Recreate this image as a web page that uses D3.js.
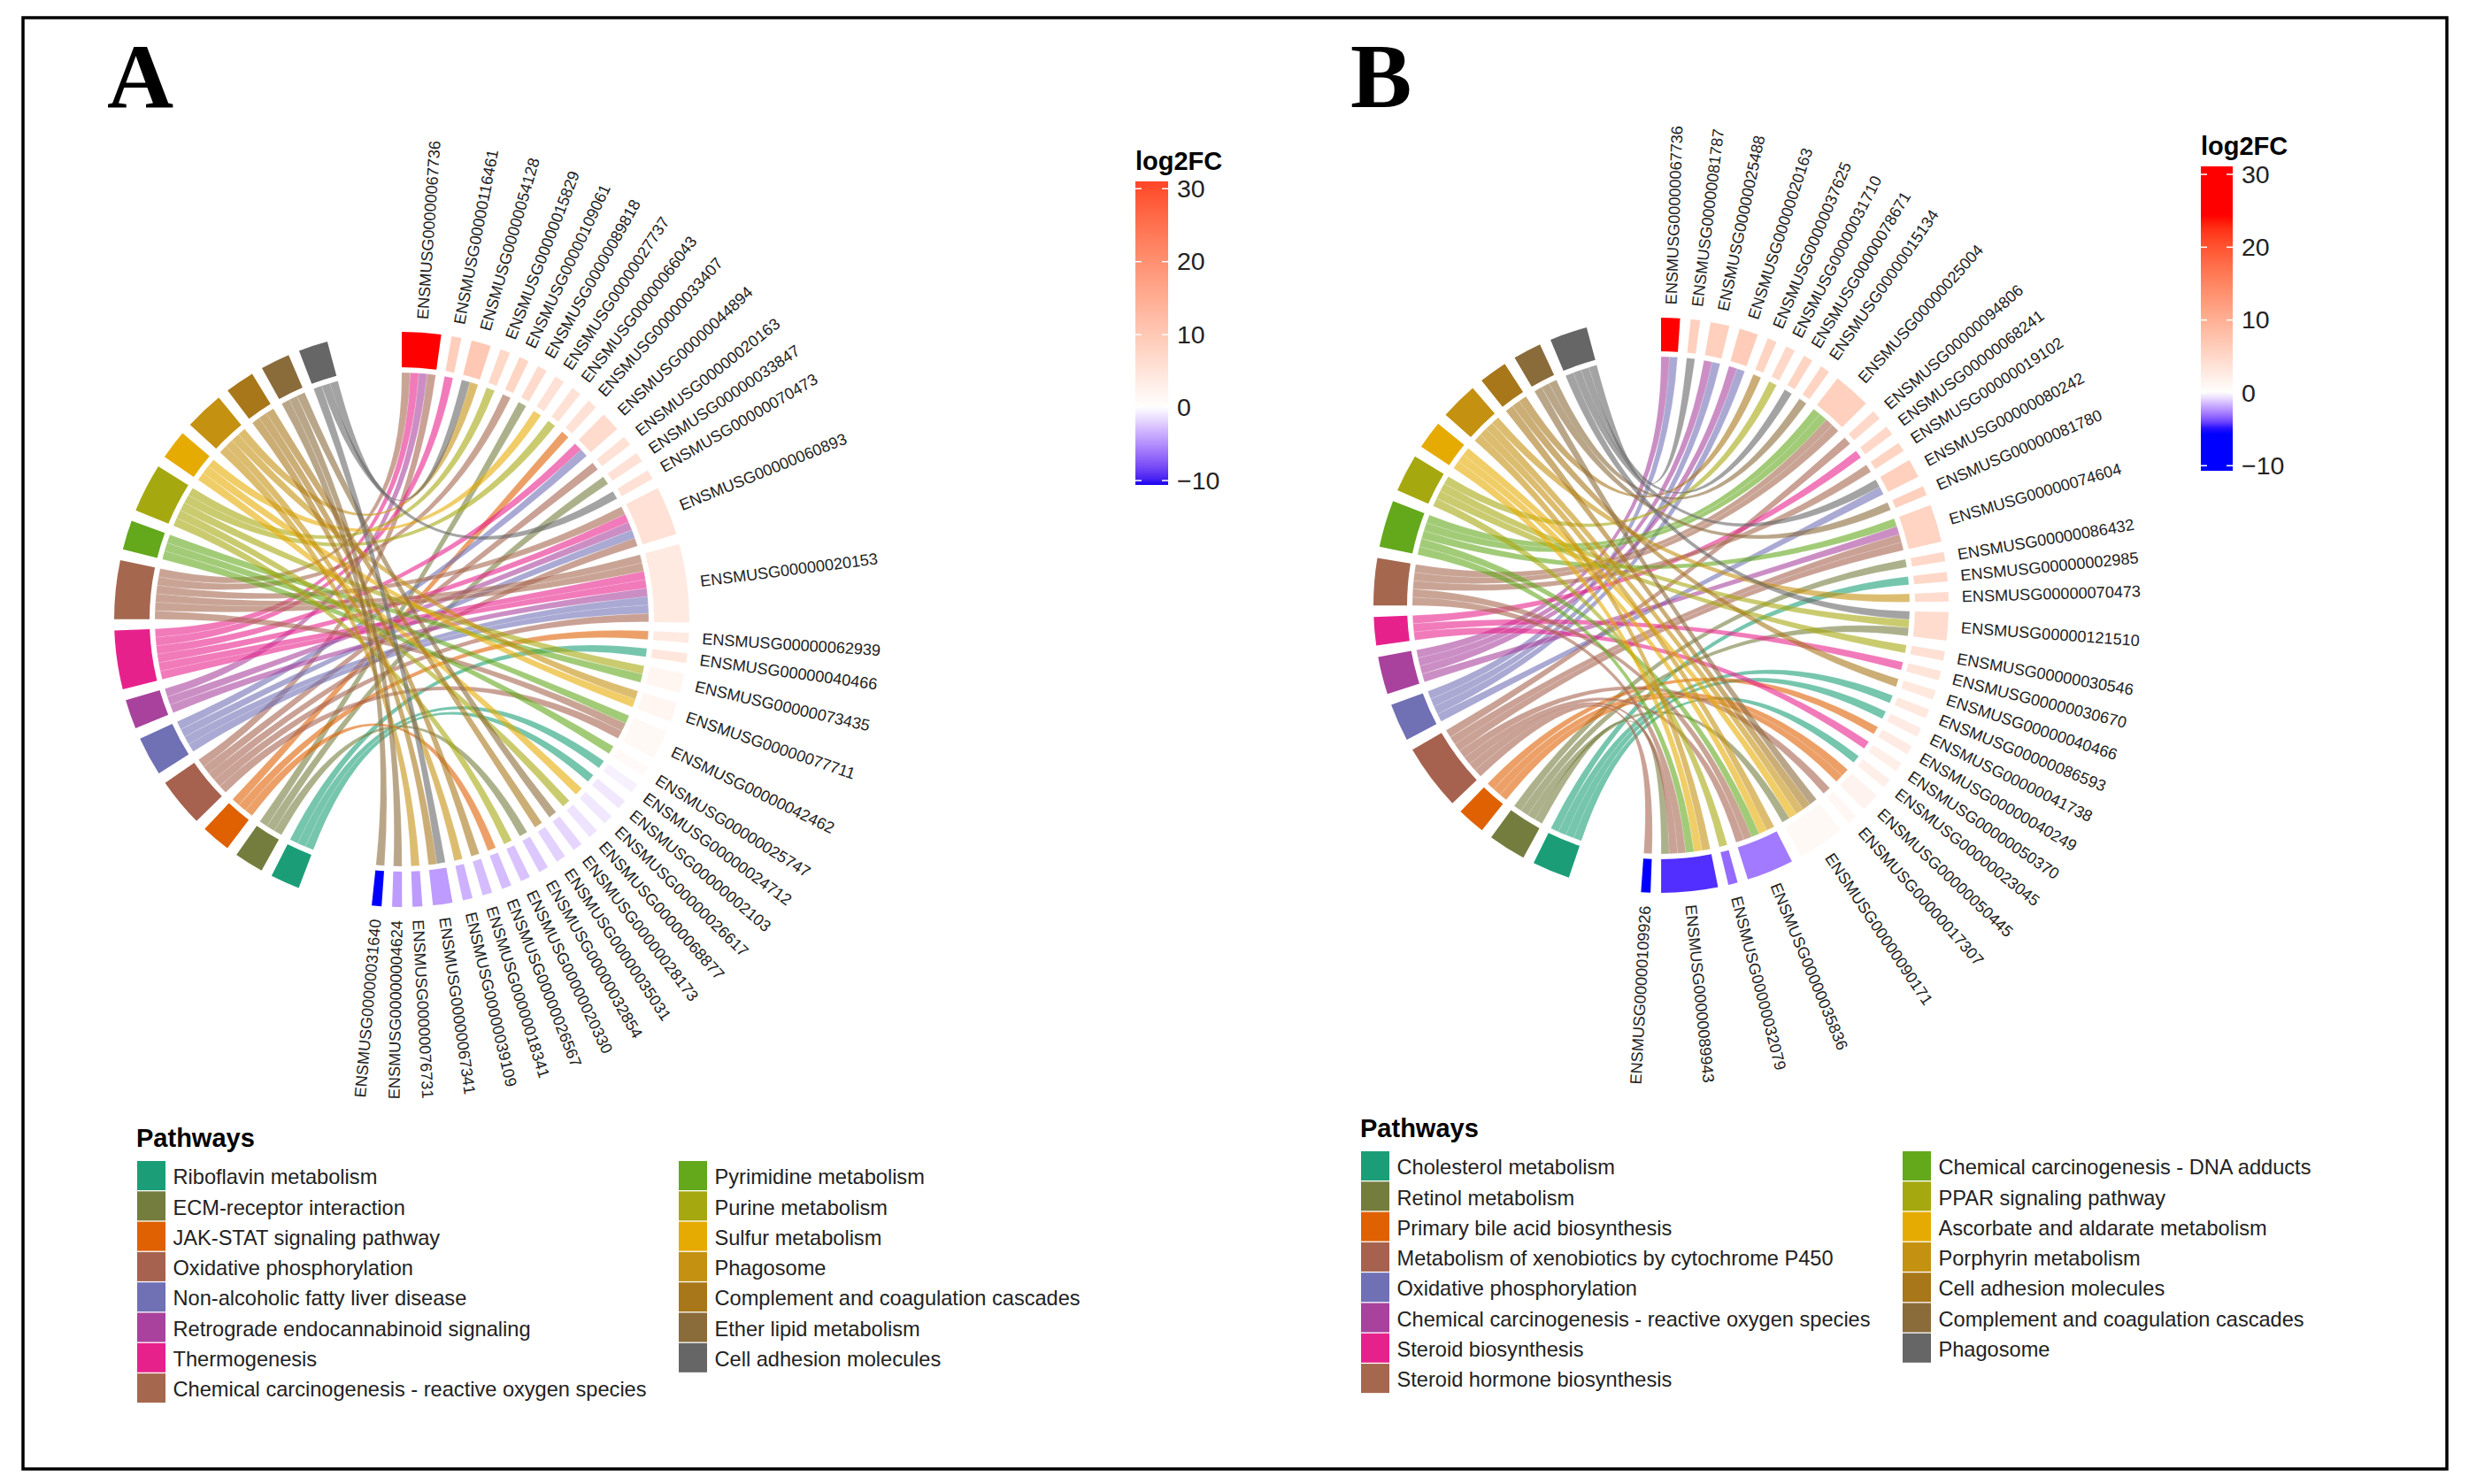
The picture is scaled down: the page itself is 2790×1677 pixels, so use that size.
<!DOCTYPE html>
<html><head><meta charset="utf-8">
<script src="https://cdn.jsdelivr.net/npm/d3@7"></script>
<style>html,body{margin:0;padding:0;background:#fff}svg{display:block}text{font-family:"Liberation Sans",Arial,sans-serif}</style>
</head><body><svg id="c" width="2790" height="1677"></svg>
<script>
const palette=["#1B9E77","#757D3E","#DF6102","#A6624F","#7070B5","#A8429C","#E7218C","#A5684F","#64A81C","#A6A80F","#E6AB02","#C49111","#A8771A","#8A6B3A","#666666"];

const pathwaysA=["Riboflavin metabolism","ECM-receptor interaction","JAK-STAT signaling pathway","Oxidative phosphorylation","Non-alcoholic fatty liver disease","Retrograde endocannabinoid signaling","Thermogenesis","Chemical carcinogenesis - reactive oxygen species","Pyrimidine metabolism","Purine metabolism","Sulfur metabolism","Phagosome","Complement and coagulation cascades","Ether lipid metabolism","Cell adhesion molecules"];
const genesA=["ENSMUSG00000067736","ENSMUSG00000116461","ENSMUSG00000054128","ENSMUSG00000015829","ENSMUSG00000109061","ENSMUSG00000089818","ENSMUSG00000027737","ENSMUSG00000066043","ENSMUSG00000033407","ENSMUSG00000044894","ENSMUSG00000020163","ENSMUSG00000033847","ENSMUSG00000070473","ENSMUSG00000060893","ENSMUSG00000020153","ENSMUSG00000062939","ENSMUSG00000040466","ENSMUSG00000073435","ENSMUSG00000077711","ENSMUSG00000042462","ENSMUSG00000025747","ENSMUSG00000024712","ENSMUSG00000002103","ENSMUSG00000026617","ENSMUSG00000068877","ENSMUSG00000028173","ENSMUSG00000035031","ENSMUSG00000032854","ENSMUSG00000020330","ENSMUSG00000026567","ENSMUSG00000018341","ENSMUSG00000039109","ENSMUSG00000067341","ENSMUSG00000076731","ENSMUSG00000004624","ENSMUSG00000031640"];
const logFCA=[31,8,9,6.5,7,6,5,5,5,6,5,5,5,5,3.5,3.5,4,1.5,1.5,1,0.8,-0.6,-1,-1,-1.2,-1.8,-2,-2.5,-2.7,-3,-3,-3.5,-4.5,-4.5,-4.5,-10.6];
const linksA=[[7,6,5,3],[6],[14,11],[9],[7],[1],[10],[9],[2],[6,4],[3],[1],[14],[7,6,5,4,3],[7,7,6,6,5,4,4,3],[2],[0],[9,8],[11,10],[8,7,3],[8],[0],[0],[10],[9],[13],[12],[1],[9],[2],[12],[11],[14,12],[11],[13],[13]];

const pathwaysB=["Cholesterol metabolism","Retinol metabolism","Primary bile acid biosynthesis","Metabolism of xenobiotics by cytochrome P450","Oxidative phosphorylation","Chemical carcinogenesis - reactive oxygen species","Steroid biosynthesis","Steroid hormone biosynthesis","Chemical carcinogenesis - DNA adducts","PPAR signaling pathway","Ascorbate and aldarate metabolism","Porphyrin metabolism","Cell adhesion molecules","Complement and coagulation cascades","Phagosome"];
const genesB=["ENSMUSG00000067736","ENSMUSG00000081787","ENSMUSG00000025488","ENSMUSG00000020163","ENSMUSG00000037625","ENSMUSG00000031710","ENSMUSG00000078671","ENSMUSG00000015134","ENSMUSG00000025004","ENSMUSG00000094806","ENSMUSG00000068241","ENSMUSG00000019102","ENSMUSG00000080242","ENSMUSG00000081780","ENSMUSG00000074604","ENSMUSG00000086432","ENSMUSG00000002985","ENSMUSG00000070473","ENSMUSG00000121510","ENSMUSG00000030546","ENSMUSG00000030670","ENSMUSG00000040466","ENSMUSG00000086593","ENSMUSG00000041738","ENSMUSG00000040249","ENSMUSG00000050370","ENSMUSG00000023045","ENSMUSG00000050445","ENSMUSG00000017307","ENSMUSG00000090171","ENSMUSG00000035836","ENSMUSG00000032079","ENSMUSG00000089943","ENSMUSG00000109926"];
const logFCB=[31,6,6,6.5,5.5,5,5.5,5.5,6,5,5,5.5,6,6,5.5,5,5,4.5,4.5,4,3.5,3,3,2.5,2.5,2,2,1.5,1,0.8,-3.4,-3.8,-5.3,-6];
const linksB=[[5,4],[14],[5,4],[5,4],[12],[9],[14],[13],[8,8,7,7],[3],[6],[7],[14,4],[13],[8,5,3,3],[1],[0],[11],[14,9,1],[9],[6],[12],[0],[0],[2],[6],[0],[2,2],[3],[13,12,11,10,1],[11,10,8,7,3],[9],[11,10,8,7,3,1],[3]];

const legendTicks=[-10,0,10,20,30];
const bandStopsA=[-10.6,0,31], bandColorsA=["#0000ff","#ffffff","#ff0000"];
const barStopsA=[-10.6,0,31], barColorsA=["#1a00f0","#ffffff","#ff4527"];
const bandStopsB=[-6,0,24,31], bandColorsB=["#0000ff","#ffffff","#ff0000","#ff0000"];
const barStopsB=[-10.7,-5,0,24,31.1], barColorsB=["#0000ff","#0000ff","#ffffff","#ff0000","#ff0000"];

const svg=d3.select("#c");
svg.append("rect").attr("width",2790).attr("height",1677).attr("fill","#fff");
svg.append("rect").attr("x",26).attr("y",20).attr("width",2739).attr("height",1640).attr("fill","none").attr("stroke","#000").attr("stroke-width",3.5);

const rad=d=>d*Math.PI/180;
function drawPanel(o,idx){
  const nP=o.pathways.length;
  const units=d3.sum(o.links,d=>d.length);
  const counts=d3.range(nP).map(p=>d3.sum(o.links,l=>l.filter(x=>x===p).length));
  const unit=(o.pathEnd-o.pathStart-(nP-1)*o.pathGap)/units;
  const geneGap=(o.geneEnd-units*unit)/(o.genes.length-1);
  const g=svg.append("g").attr("transform",`translate(${o.cx},${o.cy})`);
  const color=d3.scaleLinear().domain(o.bandStops).range(o.bandColors).interpolate(d3.interpolateLab).clamp(true);

  let a=0; const gs=[];
  o.genes.forEach((n,i)=>{const w=o.links[i].length*unit;gs.push({name:n,i,start:a,end:a+w,fc:o.fc[i]});a+=w+geneGap;});
  let b=o.pathStart; const ps=[];
  o.pathways.forEach((n,i)=>{const w=counts[i]*unit;ps.push({name:n,i,start:b,end:b+w});b+=w+o.pathGap;});

  const links=[];
  gs.forEach(s=>{o.links[s.i].forEach((p,k)=>links.push({gene:s.i,p,gs:s.start+k*unit,ge:s.start+(k+1)*unit}));});
  ps.forEach(s=>{
    const ls=links.filter(l=>l.p===s.i).sort((x,y)=>d3.descending(x.gene,y.gene)||d3.descending(x.gs,y.gs));
    ls.forEach((l,k)=>{l.ps=s.start+k*unit;l.pe=s.start+(k+1)*unit;});
  });
  const ribbon=d3.ribbon().radius(o.rr);
  g.append("g").selectAll("path").data(links.sort((x,y)=>d3.ascending(x.p,y.p))).join("path")
    .attr("d",l=>ribbon({source:{startAngle:rad(l.gs),endAngle:rad(l.ge)},target:{startAngle:rad(l.ps),endAngle:rad(l.pe)}}))
    .attr("fill",l=>palette[l.p]).attr("fill-opacity",0.6).attr("stroke","#fff").attr("stroke-opacity",0.25).attr("stroke-width",0.6);

  const arc=d3.arc().innerRadius(o.ri).outerRadius(o.ro).startAngle(d=>rad(d.start)).endAngle(d=>rad(d.end));
  g.append("g").selectAll("path").data(gs).join("path").attr("d",arc).attr("fill",d=>color(d.fc));
  g.append("g").selectAll("path").data(ps).join("path").attr("d",arc).attr("fill",d=>palette[d.i]);

  g.append("g").selectAll("text").data(gs).join("text")
    .attr("font-size",18.1).attr("fill","#222")
    .attr("dy","0.35em")
    .attr("transform",d=>{const m=(d.start+d.end)/2,flip=m>180;
      return `rotate(${m-90}) translate(${o.ro+o.labelGap},0)`+(flip?" rotate(180)":"");})
    .attr("text-anchor",d=>(d.start+d.end)/2>180?"end":"start")
    .text(d=>d.name);

  const y=d3.scaleLinear().domain(o.barDomain).range([o.barBottom,o.barTop]);
  const gid="grad"+idx;
  const lg=svg.append("defs").append("linearGradient").attr("id",gid).attr("x1",0).attr("x2",0).attr("y1",1).attr("y2",0);
  const barScale=d3.scaleLinear().domain(o.barStops).range(o.barColors).interpolate(d3.interpolateLab);
  d3.range(0,1.0001,0.02).forEach(t=>{const v=o.barDomain[0]+t*(o.barDomain[1]-o.barDomain[0]);
    lg.append("stop").attr("offset",t).attr("stop-color",barScale(v));});
  svg.append("rect").attr("x",o.barX).attr("y",o.barTop).attr("width",o.barW).attr("height",o.barBottom-o.barTop).attr("fill",`url(#${gid})`);
  const axis=d3.axisRight(y).tickValues(legendTicks).tickSize(0).tickPadding(0);
  const ag=svg.append("g").attr("transform",`translate(${o.barX+o.barW+10},0)`).call(axis);
  ag.select(".domain").remove();
  ag.selectAll("text").attr("font-size",28.5).attr("fill","#222").attr("font-family",'"Liberation Sans",Arial,sans-serif');
  legendTicks.forEach(t=>{[0,o.barW-7].forEach(dx=>svg.append("line").attr("x1",o.barX+dx).attr("x2",o.barX+dx+7).attr("y1",y(t)).attr("y2",y(t)).attr("stroke","#fff").attr("stroke-width",1.5));});
  svg.append("text").attr("x",o.barX).attr("y",o.barTop-13).attr("font-size",29).attr("font-weight","bold").text("log2FC");

  svg.append("text").attr("x",o.legX-1).attr("y",o.legTitleY).attr("font-size",29).attr("font-weight","bold").text("Pathways");
  o.pathways.forEach((n,i)=>{
    const col=i<8?0:1, row=i<8?i:i-8;
    const x=col?o.legX2:o.legX, yy=o.legY+row*34.3;
    svg.append("rect").attr("x",x).attr("y",yy).attr("width",32).attr("height",33).attr("fill",palette[i]);
    svg.append("text").attr("x",x+40.5).attr("y",yy+18).attr("dy","0.35em").attr("font-size",o.legFont).attr("fill","#222").text(n);
  });
}

drawPanel({pathways:pathwaysA,genes:genesA,fc:logFCA,links:linksA,cx:454,cy:700,ro:325,ri:285,rr:279,labelGap:15,
  pathStart:201,pathEnd:345,pathGap:2.25,geneEnd:186,bandStops:bandStopsA,bandColors:bandColorsA,
  barX:1283,barW:37,barTop:205,barBottom:548,barDomain:[-10.6,31],barStops:barStopsA,barColors:barColorsA,
  legX:155,legX2:767,legY:1312,legTitleY:1296,legFont:23.6},0);
drawPanel({pathways:pathwaysB,genes:genesB,fc:logFCB,links:linksB,cx:1877,cy:684,ro:325,ri:287,rr:281,labelGap:15,
  pathStart:198.7,pathEnd:345,pathGap:2.3,geneEnd:184,bandStops:bandStopsB,bandColors:bandColorsB,
  barX:2487,barW:36,barTop:188,barBottom:532,barDomain:[-10.7,31.1],barStops:barStopsB,barColors:barColorsB,
  legX:1538,legX2:2150,legY:1301,legTitleY:1285,legFont:23.6},1);

svg.append("text").attr("x",121).attr("y",122).attr("font-size",104).attr("font-weight","bold").style("font-family",'"Liberation Serif",serif').text("A");
svg.append("text").attr("x",1526).attr("y",121).attr("font-size",104).attr("font-weight","bold").style("font-family",'"Liberation Serif",serif').text("B");
</script></body></html>
